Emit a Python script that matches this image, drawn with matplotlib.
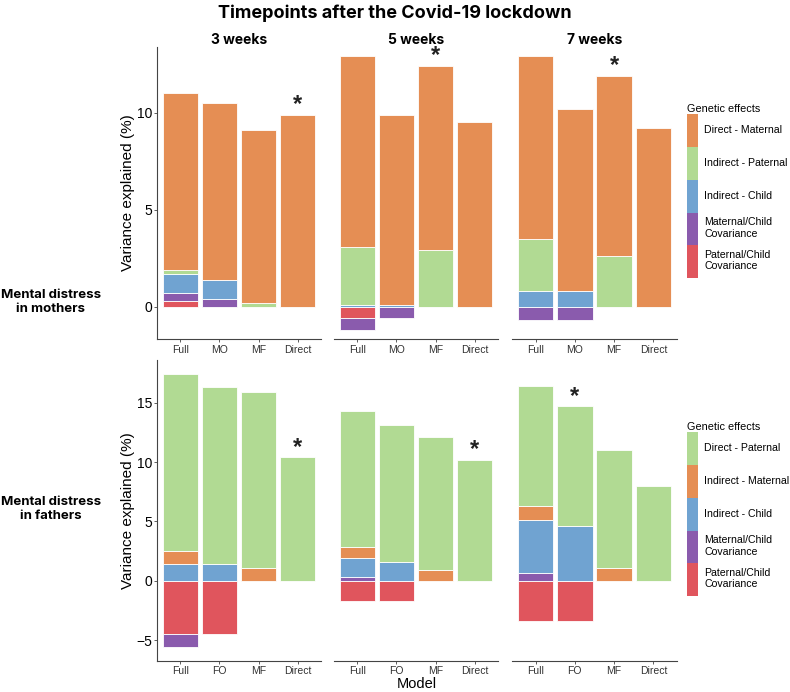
import numpy as np
import matplotlib
matplotlib.use("Agg")
import matplotlib.pyplot as plt
from matplotlib.patches import Patch

plt.rcParams['font.family'] = ['Liberation Sans', 'DejaVu Sans']

# categories
timepoints = ['3 weeks', '5 weeks', '7 weeks']
models_mothers = ['Full', 'MO', 'MF', 'Direct']
models_fathers = ['Full', 'FO', 'MF', 'Direct']

# mothers: rows = timepoints, cols = models
m_direct_maternal = [[9.1, 9.1, 8.9, 9.9], [9.8, 9.8, 9.5, 9.5], [9.4, 9.4, 9.3, 9.2]]
m_indirect_paternal = [[0.2, 0, 0.2, 0], [3.0, 0, 2.9, 0], [2.7, 0, 2.6, 0]]
m_indirect_child = [[1.0, 1.0, 0, 0], [0.1, 0.1, 0, 0], [0.8, 0.8, 0, 0]]
m_mat_child_cov = [[0.4, 0.4, 0, 0], [-0.6, -0.6, 0, 0], [-0.7, -0.7, 0, 0]]
m_pat_child_cov = [[0.3, 0, 0, 0], [-0.6, 0, 0, 0], [0, 0, 0, 0]]
m_stars = [3, 2, 2]

# fathers
f_direct_paternal = [[14.9, 14.95, 14.8, 10.4], [11.5, 11.5, 11.2, 10.2], [10.1, 10.1, 9.9, 7.95]]
f_indirect_maternal = [[1.1, 0, 1.1, 0], [0.9, 0, 0.9, 0], [1.15, 0, 1.1, 0]]
f_indirect_child = [[1.4, 1.4, 0, 0], [1.6, 1.6, 0, 0], [4.5, 4.6, 0, 0]]
f_mat_child_cov = [[-1.05, 0, 0, 0], [0.3, 0, 0, 0], [0.65, 0, 0, 0]]
f_pat_child_cov = [[-4.5, -4.5, 0, 0], [-1.7, -1.7, 0, 0], [-3.4, -3.4, 0, 0]]
f_stars = [3, 3, 1]

c_orange = '#E58E54'
c_green = '#B1DA93'
c_blue = '#70A3D1'
c_purple = '#8A5BAD'
c_red = '#E0555D'

rows = [
    dict(models=models_mothers, stars=m_stars, ylim=(-1.66, 13.4), yticks=[0, 5, 10],
         label='Mental distress\nin mothers', label_y=302, leg_y=99,
         comps=[('Direct - Maternal', m_direct_maternal, c_orange),
                ('Indirect - Paternal', m_indirect_paternal, c_green),
                ('Indirect - Child', m_indirect_child, c_blue),
                ('Maternal/Child\nCovariance', m_mat_child_cov, c_purple),
                ('Paternal/Child\nCovariance', m_pat_child_cov, c_red)]),
    dict(models=models_fathers, stars=f_stars, ylim=(-6.74, 18.6), yticks=[-5, 0, 5, 10, 15],
         label='Mental distress\nin fathers', label_y=509, leg_y=417,
         comps=[('Direct - Paternal', f_direct_paternal, c_green),
                ('Indirect - Maternal', f_indirect_maternal, c_orange),
                ('Indirect - Child', f_indirect_child, c_blue),
                ('Maternal/Child\nCovariance', f_mat_child_cov, c_purple),
                ('Paternal/Child\nCovariance', f_pat_child_cov, c_red)]),
]

W, H = 790, 692
fig = plt.figure(figsize=(W / 100, H / 100), dpi=100)

col_px = [(157, 321), (334, 498), (512, 677)]
row_px = [(46.7, 339), (360, 660.7)]
spine_c = '#444444'

for r, row in enumerate(rows):
    y0, y1 = row_px[r]
    for c in range(3):
        x0, x1 = col_px[c]
        ax = fig.add_axes([x0 / W, 1 - y1 / H, (x1 - x0) / W, (y1 - y0) / H])
        x = np.arange(1, 5)
        pos = np.zeros(4)
        neg = np.zeros(4)
        # stack from zero outwards in reverse legend order
        for name, vals, col in reversed(row['comps']):
            v = np.array(vals[c], dtype=float)
            base = np.where(v >= 0, pos, neg)
            ax.bar(x, v, bottom=base, width=0.9, color=col, edgecolor='white', linewidth=0.6)
            pos = pos + np.where(v > 0, v, 0)
            neg = neg + np.where(v < 0, v, 0)
        s = row['stars'][c]
        ax.annotate('*', (x[s], pos[s]), xytext=(0, -1), textcoords='offset points',
                    ha='center', va='bottom', fontsize=17, fontweight='bold', color='#222222')
        ax.set_xlim(0.4, 4.6)
        ax.set_ylim(*row['ylim'])
        ax.set_xticks(x)
        ax.set_xticklabels(row['models'], fontsize=7.5, color='#333333')
        for sp in ['top', 'right']:
            ax.spines[sp].set_visible(False)
        ax.spines['bottom'].set_color(spine_c)
        ax.tick_params(axis='x', length=2.5, width=0.6, color=spine_c, pad=1.5)
        if c == 0:
            ax.spines['left'].set_color(spine_c)
            ax.set_yticks(row['yticks'])
            ax.tick_params(axis='y', length=2.5, width=0.6, color=spine_c, labelsize=10, pad=1)
            ax.set_ylabel('Variance explained (%)', fontsize=11, labelpad=1)
        else:
            ax.spines['left'].set_visible(False)
            ax.set_yticks([])
        if r == 0:
            ax.set_title(timepoints[c], fontsize=10, fontweight='bold', family='Inter', pad=2)

    # row label
    fig.text(51 / W, 1 - row['label_y'] / H, row['label'], ha='center', va='center',
             fontsize=9.5, fontweight='bold', family='Inter', linespacing=1.15)

    handles = [Patch(facecolor=col, edgecolor='none', label=name) for name, vals, col in row['comps']]
    fig.legend(handles=handles, loc='upper left', bbox_to_anchor=(682 / W, 1 - row['leg_y'] / H),
               frameon=False, fontsize=7.6, title='Genetic effects', title_fontsize=7.8,
               handlelength=1.05, handleheight=4.4, labelspacing=0, handletextpad=0.55,
               borderpad=0.5, borderaxespad=0, alignment='left')

fig.text(395 / W, 1 - 13 / H, 'Timepoints after the Covid-19 lockdown', ha='center', va='center',
         fontsize=13, fontweight='bold', family='Inter')
fig.text(417 / W, 1 - 684 / H, 'Model', ha='center', va='center', fontsize=10.5)

fig.savefig('out.png', dpi=100)
